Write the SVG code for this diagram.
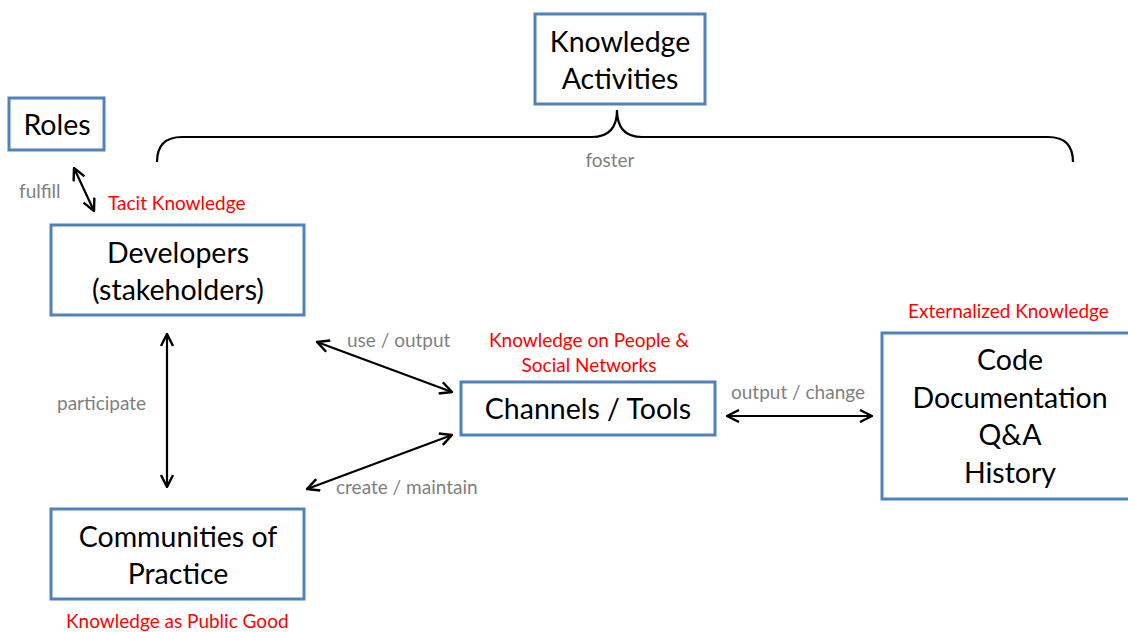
<svg xmlns="http://www.w3.org/2000/svg" width="1128" height="632" viewBox="0 0 1128 632">
  <style>
    .box { fill: #ffffff; stroke: #4f81bd; stroke-width: 3; }
    .t { font-family: Lato, "Open Sans", "Liberation Sans", sans-serif; font-size: 28.5px; fill: #000; text-anchor: middle; dominant-baseline: central; }
    .lbl { font-family: Lato, "Open Sans", "Liberation Sans", sans-serif; font-size: 19px; fill: #7f7f7f; dominant-baseline: central; }
    .red { font-family: Lato, "Open Sans", "Liberation Sans", sans-serif; font-size: 19px; fill: #ff0000; dominant-baseline: central; }
    .edge { fill: none; stroke: #000; stroke-width: 2.2; marker-start: url(#head); marker-end: url(#head); }
  </style>
  <defs>
    <marker id="head" viewBox="0 0 14 14" refX="13" refY="7" markerWidth="14" markerHeight="14" markerUnits="userSpaceOnUse" orient="auto-start-reverse">
      <path d="M1,1 L13,7 L1,13" fill="none" stroke="#000" stroke-width="2.4"/>
    </marker>
  </defs>
  <rect width="1128" height="632" fill="#ffffff"/>

  <g id="connectors">
    <line class="edge" x1="74" y1="168" x2="94" y2="211"/>
    <line class="edge" x1="167" y1="334" x2="167" y2="487"/>
    <line class="edge" x1="317" y1="342" x2="452" y2="392"/>
    <line class="edge" x1="307" y1="489" x2="452" y2="435"/>
    <line class="edge" x1="727" y1="416" x2="872" y2="416"/>
    <!-- curly brace under Knowledge Activities -->
    <path d="M157,162 Q157,137 182,137 L592,137 Q617,137 617,110 Q617,137 642,137 L1048,137 Q1073,137 1073,162" fill="none" stroke="#000" stroke-width="2.2"/>
  </g>

  <g id="knowledge-activities">
    <rect class="box" x="535" y="14" width="170" height="90"/>
    <text class="t" x="620" y="41">Knowledge</text>
    <text class="t" x="620" y="78">Activities</text>
  </g>
  <g id="roles">
    <rect class="box" x="9" y="98" width="95" height="52"/>
    <text class="t" x="57" y="124">Roles</text>
  </g>
  <g id="developers">
    <rect class="box" x="51" y="225" width="253" height="90"/>
    <text class="t" x="178" y="252">Developers</text>
    <text class="t" x="178" y="289">(stakeholders)</text>
  </g>
  <g id="communities">
    <rect class="box" x="51" y="509" width="253" height="90"/>
    <text class="t" x="178" y="536">Communities of</text>
    <text class="t" x="178" y="573">Practice</text>
  </g>
  <g id="channels">
    <rect class="box" x="461" y="382" width="254" height="53"/>
    <text class="t" x="588" y="408">Channels / Tools</text>
  </g>
  <g id="artifacts">
    <rect class="box" x="882" y="333" width="250" height="166"/>
    <text class="t" x="1010" y="359">Code</text>
    <text class="t" x="1010" y="397">Documentation</text>
    <text class="t" x="1010" y="434">Q&amp;A</text>
    <text class="t" x="1010" y="472">History</text>
  </g>

  <g id="labels">
    <text class="lbl" x="19" y="190">fulfill</text>
    <text class="lbl" x="610" y="159" text-anchor="middle">foster</text>
    <text class="lbl" x="57" y="402">participate</text>
    <text class="lbl" x="347" y="339">use / output</text>
    <text class="lbl" x="336" y="486">create / maintain</text>
    <text class="lbl" x="731" y="391">output / change</text>
    <text class="red" x="108" y="202">Tacit Knowledge</text>
    <text class="red" x="589" y="339" text-anchor="middle">Knowledge on People &amp;</text>
    <text class="red" x="589" y="364" text-anchor="middle">Social Networks</text>
    <text class="red" x="908" y="310">Externalized Knowledge</text>
    <text class="red" x="66" y="620">Knowledge as Public Good</text>
  </g>
</svg>
